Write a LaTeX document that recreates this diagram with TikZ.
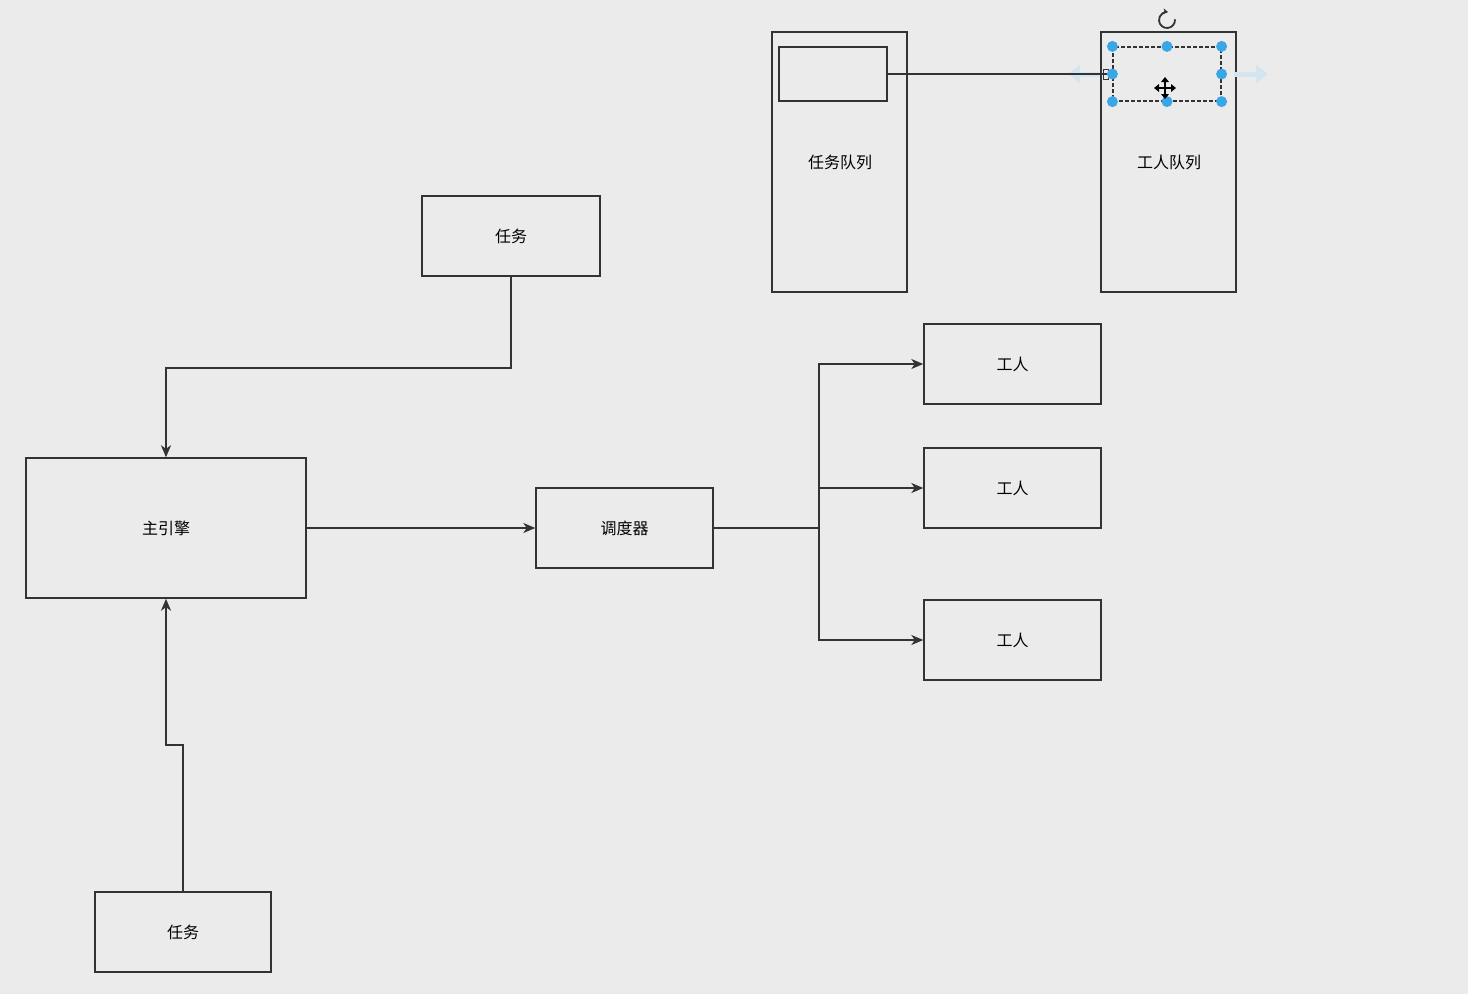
\documentclass[tikz,border=0pt]{standalone}
\usepackage{fontspec}
\newfontfamily\cjk{Noto Sans CJK SC}
\usetikzlibrary{arrows.meta}
\definecolor{bgc}{HTML}{EBEBEB}
\definecolor{linec}{HTML}{333333}
\definecolor{handle}{HTML}{3AA6E6}
\definecolor{faded}{HTML}{D2E5F1}
\begin{document}
\begin{tikzpicture}[x=1pt,y=-1pt,
  box/.style={draw=linec,line width=1.4pt,rectangle,inner sep=0pt,font=\cjk\fontsize{16}{19}\selectfont},
  conn/.style={draw=linec,line width=1.5pt},
  arr/.style={conn,-{Stealth[length=12pt,width=10pt,inset=3.5pt]}},
  lbl/.style={font=\cjk\fontsize{16}{19}\selectfont},
  hdl/.style={circle,fill=handle,inner sep=0pt,minimum size=11pt}]
\useasboundingbox[fill=bgc] (0,0) rectangle (1468,994);
% queues
\node[box,minimum width=135pt,minimum height=260pt] (tq) at (839.5,162) {};
\node[lbl] (tql) at (840,162) {任务队列};
\node[box,minimum width=108pt,minimum height=54pt] (tqin) at (833,74) {};
\node[box,minimum width=135pt,minimum height=260pt] (wq) at (1168.5,162) {};
\node[lbl] (wql) at (1169,162) {工人队列};
\node[draw=linec,dashed,dash pattern=on 4pt off 2pt,line width=1.2pt,rectangle,inner sep=0pt,minimum width=108pt,minimum height=54pt] (wqin) at (1167,74) {};
% faded arrows
\draw[faded,line width=5pt,-{Triangle[length=12pt,width=18pt]}] (1100,74) -- (1068,74);
\draw[faded,line width=5pt,-{Triangle[length=12pt,width=18pt]}] (1234,74) -- (1268,74);
\draw[conn] (tqin.east) -- (wqin.west);
\draw[linec,line width=1pt] (1103,69) rectangle (1108,79);
% handles
\foreach \a in {north west,north,north east,west,east,south west,south,south east}
  \node[hdl] at (wqin.\a) {};
% rotate icon
\draw[linec,line width=1.8pt,-{Stealth[length=5pt,width=6pt]}] (1167,20) ++(-5:8) arc (-5:278:8);
% move cursor
\draw[black,line width=2pt] (1156,88) -- (1174,88) (1165,79) -- (1165,97);
\fill[black] (1154,88) -- (1159,84) -- (1159,92) -- cycle;
\fill[black] (1176,88) -- (1171,84) -- (1171,92) -- cycle;
\fill[black] (1165,77) -- (1161,82) -- (1169,82) -- cycle;
\fill[black] (1165,99) -- (1161,94) -- (1169,94) -- cycle;
% main diagram
\node[box,minimum width=178pt,minimum height=80pt] (task1) at (511,236) {任务};
\node[box,minimum width=280pt,minimum height=140pt] (engine) at (166,528) {主引擎};
\node[box,minimum width=176pt,minimum height=80pt] (task2) at (183,932) {任务};
\node[box,minimum width=177pt,minimum height=80pt] (sched) at (624.5,528) {调度器};
\node[box,minimum width=177pt,minimum height=80pt] (w1) at (1012.5,364) {工人};
\node[box,minimum width=177pt,minimum height=80pt] (w2) at (1012.5,488) {工人};
\node[box,minimum width=177pt,minimum height=80pt] (w3) at (1012.5,640) {工人};
\coordinate (split) at (819,528);
\draw[arr] (task1.south) -- (task1.south |- 0,368) -| (engine.north);
\draw[arr] (task2.north) -- (task2.north |- 0,745) -| (engine.south);
\draw[arr] (engine.east) -- (sched.west);
\draw[conn] (sched.east) -- (split);
\draw[arr] (split) |- (w1.west);
\draw[arr] (split) |- (w2.west);
\draw[arr] (split) |- (w3.west);
\end{tikzpicture}
\end{document}
